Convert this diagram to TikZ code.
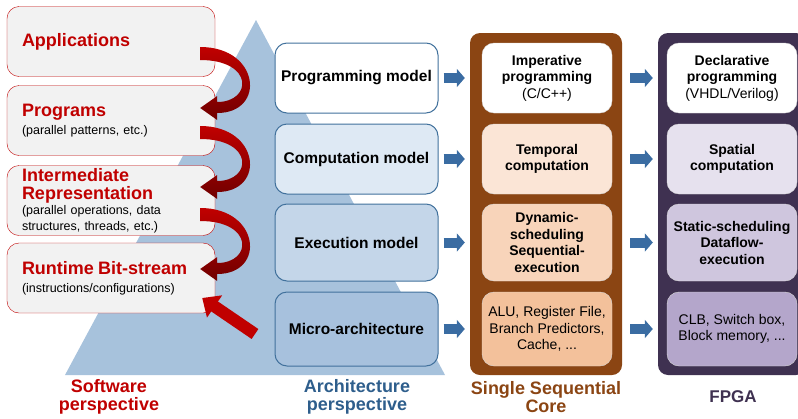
\documentclass[tikz,border=0pt]{standalone}
\usepackage{fontspec}
\setmainfont{Liberation Sans}
\usetikzlibrary{arrows.meta,positioning}

\definecolor{swred}{RGB}{192,0,0}
\definecolor{swdark}{RGB}{112,0,0}
\definecolor{boxgray}{RGB}{242,242,242}
\definecolor{pyramid}{RGB}{167,194,220}
\definecolor{archline}{RGB}{65,113,156}
\definecolor{archtext}{RGB}{46,94,140}
\definecolor{arrowblue}{RGB}{58,108,162}
\definecolor{archB}{RGB}{222,233,244}
\definecolor{archC}{RGB}{196,214,233}
\definecolor{archD}{RGB}{167,193,221}
\definecolor{corebrown}{RGB}{139,69,19}
\definecolor{coreB}{RGB}{251,229,214}
\definecolor{coreC}{RGB}{248,212,186}
\definecolor{coreD}{RGB}{243,193,155}
\definecolor{fpgapurple}{RGB}{63,49,81}
\definecolor{fpgaB}{RGB}{230,225,238}
\definecolor{fpgaC}{RGB}{207,198,222}
\definecolor{fpgaD}{RGB}{180,166,203}

\newcommand{\swtitle}{\fontsize{18}{14}\selectfont\bfseries\color{swred}}

\tikzset{
  swbox/.style={draw=swred, fill=boxgray, rounded corners=12pt, minimum width=208pt,
    minimum height=70pt, text width=178pt, align=left, inner sep=0pt,
    font=\fontsize{12.5}{16}\selectfont},
  archbox/.style={draw=archline, line width=1pt, rounded corners=12pt, minimum width=163pt,
    minimum height=70pt, font=\fontsize{15.5}{18}\selectfont\bfseries},
  panel/.style={rounded corners=10pt, minimum height=342pt},
  innerbox/.style={draw=white!85!black, rounded corners=12pt, minimum width=130pt,
    minimum height=70pt, align=center, inner sep=0pt, font=\fontsize{14}{16.5}\selectfont\bfseries},
  bottomlabel/.style={align=center, font=\fontsize{18}{18}\selectfont\bfseries},
  bluearrow/.style={arrowblue, line width=10pt, -{Triangle[width=18pt,length=8pt]}},
  redcurl/.style={top color=swred, bottom color=swdark},
  redstraight/.style={swred, line width=12pt, -{Triangle[width=26pt,length=15pt]}}
}

\begin{document}
\begin{tikzpicture}[x=1pt,y=-1pt]
\useasboundingbox (0,0) rectangle (798,418);

% pyramid behind everything
\fill[pyramid] (256,20) -- (445,375) -- (65,375) -- cycle;

% software perspective
\node[swbox] (apps) at (111,41.5) {{\swtitle Applications}};
\node[swbox] (prog) at (111,120.5) {{\swtitle Programs}\\[2pt](parallel patterns, etc.)};
\node[swbox] (ir) at (111,200.5) {{\swtitle Intermediate}\\[2pt]{\swtitle Representation}\\[-1pt](parallel operations, data\\structures, threads, etc.)};
\node[swbox] (rt) at (111,278) {{\swtitle Runtime Bit-stream}\\[2pt](instructions/configurations)};

\foreach \from/\dy in {apps/5.5,prog/5.5,ir/7.5}
  \shade[redcurl, shift={([xshift=-15pt,yshift=-\dy pt]\from.east)}]
    (0,0) .. controls (60,0) and (66,66) .. (17,66) -- (17,73) -- (0,61) -- (17,49)
    -- (17,55) .. controls (52,55) and (54,13) .. (0,13) -- cycle;

\coordinate (rtail) at (255,334);
\draw[redstraight] (rtail) -- ([xshift=-13pt,yshift=-20pt]rt.east);

% architecture perspective
\node[archbox, fill=white] (pm) at (356.5,78) {Programming model};
\node[archbox, fill=archB] (cm) at (356.5,159) {Computation model};
\node[archbox, fill=archC, minimum height=77pt] (em) at (356.5,242.5) {Execution model};
\node[archbox, fill=archD, minimum height=74pt] (ma) at (356.5,329) {Micro-architecture};

% single sequential core
\node[panel, fill=corebrown, minimum width=152pt] (core) at (546,204) {};
\node[innerbox, fill=white] (imp) at (547,78) {Imperative\\programming\\{\mdseries (C/C++)}};
\node[innerbox, fill=coreB] (temp) at (547,159) {Temporal\\computation};
\node[innerbox, fill=coreC, minimum height=77pt] (dyn) at (547,242.5) {Dynamic-\\scheduling\\Sequential-\\execution};
\node[innerbox, fill=coreD, minimum height=74pt, font=\fontsize{14}{16.5}\selectfont] (alu) at (547,329) {ALU, Register File,\\Branch Predictors,\\Cache, ...};

% fpga
\node[panel, fill=fpgapurple, minimum width=148pt] (fpga) at (732,204) {};
\node[innerbox, fill=white] (decl) at (732,78) {Declarative\\programming\\{\mdseries (VHDL/Verilog)}};
\node[innerbox, fill=fpgaB] (spat) at (732,159) {Spatial\\computation};
\node[innerbox, fill=fpgaC, minimum height=77pt] (stat) at (732,242.5) {Static-scheduling\\Dataflow-\\execution};
\node[innerbox, fill=fpgaD, minimum height=74pt, font=\fontsize{14}{16.5}\selectfont] (clb) at (732,329) {CLB, Switch box,\\Block memory, ...};

% arrows between columns
\foreach \a/\b in {pm/imp,cm/temp,em/dyn,ma/alu}
  \draw[bluearrow] ([xshift=5pt]\a.east) -- ([xshift=-5pt]\a.east -| core.west);
\foreach \a/\b in {imp/decl,temp/spat,dyn/stat,alu/clb}
  \draw[bluearrow] ([xshift=8pt]core.east |- \a.east) -- ([xshift=-5pt]\a.east -| fpga.west);

% bottom labels
\node[bottomlabel, text=swred] (swlabel) at (109,397) {Software\\perspective};
\node[bottomlabel, text=archtext] (archlabel) at (357,397) {Architecture\\perspective};
\node[bottomlabel, text=corebrown] (corelabel) at (546,397) {Single Sequential\\Core};
\node[bottomlabel, text=fpgapurple, font=\fontsize{17}{18}\selectfont\bfseries] (fpgalabel) at (733,397) {FPGA};
\end{tikzpicture}
\end{document}
